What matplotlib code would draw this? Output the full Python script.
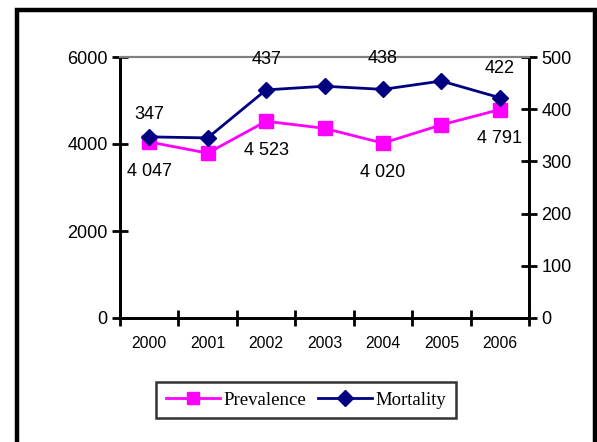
import matplotlib
matplotlib.use("Agg")
import matplotlib.pyplot as plt
from matplotlib.patches import Rectangle
from matplotlib.ticker import FixedLocator, MultipleLocator

years = ["2000", "2001", "2002", "2003", "2004", "2005", "2006"]
prevalence = [4047, 3790, 4523, 4360, 4020, 4440, 4791]
mortality = [347, 345, 437, 444, 438, 454, 422]

# which points carry value labels
prev_labels = {0: "4 047", 2: "4 523", 4: "4 020", 6: "4 791"}
mort_labels = {0: "347", 2: "437", 4: "438", 6: "422"}

DPI = 100
W, H = 597, 442
fig = plt.figure(figsize=(W / DPI, H / DPI), dpi=DPI)
fig.patch.set_facecolor("white")

sans = "Liberation Sans"
serif = "Liberation Serif"

# outer chart frame (runs past the bottom edge)
fig.patches.append(Rectangle((17 / W, -0.1), (578 / W), 1.1 - 10 / H,
                             transform=fig.transFigure, fill=False,
                             edgecolor="black", linewidth=3.2, clip_on=False))

ax = fig.add_axes([120 / W, 124 / H, 409 / W, 261 / H])
ax2 = ax.twinx()

x = list(range(len(years)))
ax.set_xlim(-0.5, len(years) - 0.5)
ax.set_ylim(0, 6000)
ax2.set_ylim(0, 500)

l1, = ax.plot(x, prevalence, color="#FF00FF", linewidth=2, marker="s",
              markersize=10, markerfacecolor="#FF00FF",
              markeredgecolor="#FF00FF", label="Prevalence", zorder=3)
l2, = ax2.plot(x, mortality, color="#000080", linewidth=2, marker="D",
               markersize=8.5, markerfacecolor="#000080",
               markeredgecolor="#000080", label="Mortality", zorder=3)

# spines
for a in (ax, ax2):
    a.spines["top"].set_color("#808080")
    a.spines["top"].set_linewidth(1.5)
    a.spines["left"].set_linewidth(2)
    a.spines["right"].set_linewidth(2)
    a.spines["bottom"].set_linewidth(2)

# x axis: labels centred, ticks on category boundaries
ax.xaxis.set_major_locator(FixedLocator(x))
ax.set_xticklabels(years, fontfamily=sans, fontsize=11.3)
ax.tick_params(axis="x", which="major", length=0, pad=13)
ax.xaxis.set_minor_locator(FixedLocator([i - 0.5 for i in range(len(years) + 1)]))
ax.tick_params(axis="x", which="minor", direction="inout", length=11, width=2)

ax.yaxis.set_major_locator(MultipleLocator(2000))
ax.tick_params(axis="y", direction="inout", length=12, width=2, pad=3,
               labelsize=13)
for t in ax.get_yticklabels():
    t.set_fontfamily(sans)

ax2.yaxis.set_major_locator(MultipleLocator(100))
ax2.tick_params(axis="y", direction="inout", length=12, width=2, pad=3,
                labelsize=13)
for t in ax2.get_yticklabels():
    t.set_fontfamily(sans)

# value labels
for i, txt in prev_labels.items():
    ax.annotate(txt, (x[i], prevalence[i]), xytext=(0, -21),
                textcoords="offset points", ha="center", va="center",
                fontsize=13, fontfamily=sans, zorder=5)
mort_off = {0: 16, 2: 22, 4: 22, 6: 21}
for i, txt in mort_labels.items():
    ax2.annotate(txt, (x[i], mortality[i]), xytext=(0, mort_off[i]),
                 textcoords="offset points", ha="center", va="center",
                 fontsize=13, fontfamily=sans, zorder=5)

leg = fig.legend(handles=[l1, l2], loc="center",
                 bbox_to_anchor=(306 / W, 1 - 400 / H), ncol=2,
                 prop={"family": serif, "size": 13.5}, frameon=True,
                 fancybox=False, shadow=False, handlelength=2.9,
                 handletextpad=0.2, columnspacing=0.6, borderpad=0.5,
                 borderaxespad=0, markerscale=0.9)
leg.get_frame().set_edgecolor("black")
leg.get_frame().set_linewidth(1.8)

fig.savefig("out.png", dpi=DPI, facecolor="white")
